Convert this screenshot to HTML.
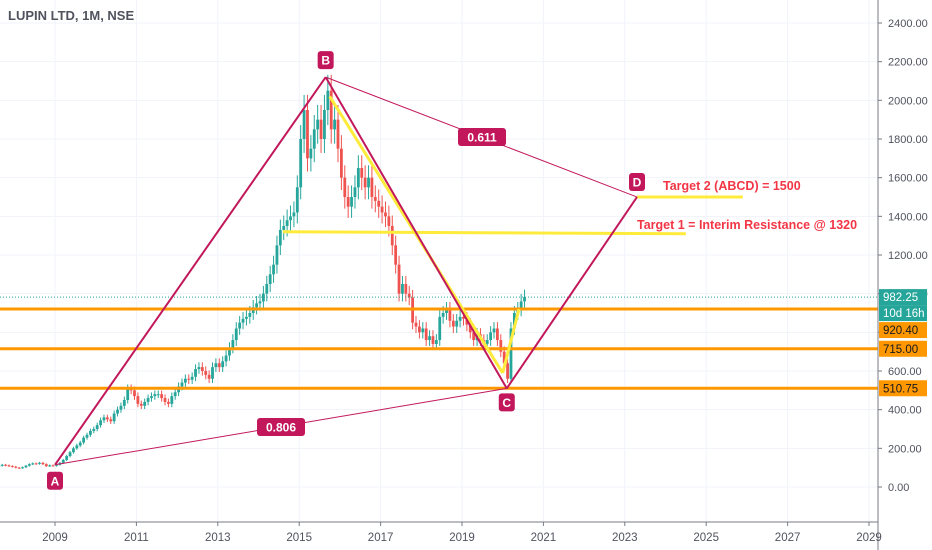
<!DOCTYPE html>
<html><head><meta charset="utf-8"><style>
body{margin:0;background:#fff;}
svg{display:block;font-family:"Liberation Sans",sans-serif;}
</style></head><body>
<svg id="c" width="932" height="550" viewBox="0 0 932 550" xmlns="http://www.w3.org/2000/svg">
<rect width="932" height="550" fill="#fff"/>
<g id="grid"></g>
<g id="candles"></g>
<g id="draw"></g>
<g id="axes"></g>
<text x="8" y="20" font-size="13" font-weight="bold" fill="#50535e">LUPIN LTD, 1M, NSE</text>
</svg>
<script>
const priceTicks=[0,200,400,600,800,1000,1200,1400,1600,1800,2000,2200,2400];
const yearTicks=[2009,2011,2013,2015,2017,2019,2021,2023,2025,2027,2029];
const startYear=2007.62;
const closes=[110,115,112,108,
105,100,98,102,110,118,122,120,125,118,108,112,
110,115,125,140,160,180,200,215,230,255,270,290,
300,320,345,360,350,340,380,400,420,450,510,500,
470,430,420,440,460,470,480,480,460,440,430,470,
490,520,540,560,555,570,610,620,600,580,560,620,
640,620,650,680,720,760,820,850,870,880,900,930,
950,960,1000,1050,1100,1150,1250,1330,1350,1380,1400,1420,
1550,1800,1950,1700,1750,1850,1900,1800,1950,2050,1850,1900,
1750,1600,1500,1450,1500,1550,1650,1600,1550,1600,1500,1480,
1450,1420,1400,1350,1250,1150,1000,1050,1000,980,850,830,
800,820,760,780,740,760,880,900,920,860,830,860,
880,870,840,800,760,790,760,740,760,800,820,760,
700,640,560,820,900,920,960,982];
const levels=[920.40,715.00,510.75];
const lastPrice=982.25;
const pA=[2009.0,115],pB=[2015.65,2120],pC=[2020.1,510],pD=[2023.3,1500];

const NS="http://www.w3.org/2000/svg";
const X=y=>55+(y-2009)*40.7;
const Y=p=>487-p*0.19333;
function el(t,a,parent){const e=document.createElementNS(NS,t);for(const k in a)e.setAttribute(k,a[k]);parent.appendChild(e);return e;}
const grid=document.getElementById('grid'),cg=document.getElementById('candles'),dg=document.getElementById('draw'),ax=document.getElementById('axes');
priceTicks.forEach(p=>{const l=el('line',{x1:0,x2:878,y1:Y(p),y2:Y(p),stroke:'#f0f3fa'},grid);
});
yearTicks.forEach(y=>{const l=el('line',{x1:X(y),x2:X(y),y1:0,y2:522,stroke:'#f0f3fa'},grid);
});
closes.forEach((c,i)=>{const o=i?closes[i-1]:c*0.97;const t=startYear+i/12;const x=X(t);
const up=c>=o;const col=up?'#26a69a':'#ef5350';const hi=Math.max(o,c)*1.04,lo=Math.min(o,c)*0.96;
const w=el('line',{x1:x,x2:x,y1:Y(hi),y2:Y(lo),stroke:col,'stroke-width':1},cg);

const b=el('rect',{x:x-1.4,y:Y(Math.max(o,c)),width:2.8,height:Math.max(1,Math.abs(Y(o)-Y(c))),fill:col},cg);
});
const lp=el('line',{x1:0,x2:878,y1:Y(lastPrice),y2:Y(lastPrice),stroke:'#26a69a','stroke-dasharray':'1,2'},dg);

levels.forEach(v=>{const l=el('line',{x1:0,x2:878,y1:Y(v),y2:Y(v),stroke:'#ff9800','stroke-width':3},dg);
});
function line(a,b,col,w,name){const l=el('line',{x1:X(a[0]),y1:Y(a[1]),x2:X(b[0]),y2:Y(b[1]),stroke:col,'stroke-width':w},dg);
}
line([2014.6,1320],[2024.5,1310],'#ffeb3b',3,'resistance-line');
line([2015.75,2020],[2020.0,590],'#ffeb3b',3,'trend-line');
line([2020.0,590],[2020.4,920],'#ffeb3b',3,'trend-line-up');
line([2023.3,1500],[2025.9,1500],'#ffeb3b',3,'target2-line');
line(pA,pC,'#c2185b',1,'ac-line');line(pB,pD,'#c2185b',1,'bd-line');
line(pA,pB,'#c2185b',2,'ab-leg');line(pB,pC,'#c2185b',2,'bc-leg');line(pC,pD,'#c2185b',2,'cd-leg');
function tag(x,y,t,name){const g=el('g',{},dg);
const w=t.length*8+8;el('rect',{x:x-w/2,y:y-9,width:w,height:18,rx:3,fill:'#c2185b'},g);
const tx=el('text',{x:x,y:y+4.5,'text-anchor':'middle','font-size':12,'font-weight':'bold',fill:'#fff'},g);tx.textContent=t;}
tag(X(pA[0]),Y(pA[1])+16,'A','point-a-label');tag(X(pB[0]),Y(pB[1])-17,'B','point-b-label');
tag(X(pC[0]),Y(pC[1])+14,'C','point-c-label');tag(X(pD[0]),Y(pD[1])-15,'D','point-d-label');
tag(281,427,'0.806','ratio-ac-label');tag(482,137,'0.611','ratio-bd-label');
function txt(x,y,t,name){const e=el('text',{x:x,y:y,'font-size':12.5,'font-weight':'bold',fill:'#f23645'},dg);e.textContent=t;
}
txt(663,190,'Target 2 (ABCD) = 1500','target2-text');txt(637,229,'Target 1 = Interim Resistance @ 1320','target1-text');
el('line',{x1:878,x2:878,y1:0,y2:550,stroke:'#787b86'},ax);
el('line',{x1:0,x2:878,y1:522,y2:522,stroke:'#787b86'},ax);
priceTicks.forEach(p=>{el('line',{x1:878,x2:882,y1:Y(p),y2:Y(p),stroke:'#787b86'},ax);
const t=el('text',{x:888,y:Y(p)+4,'font-size':11,fill:'#50535e'},ax);t.textContent=p.toFixed(2);
});
yearTicks.forEach(y=>{el('line',{x1:X(y),x2:X(y),y1:522,y2:526,stroke:'#787b86'},ax);
const t=el('text',{x:X(y),y:541,'font-size':11.5,fill:'#50535e','text-anchor':'middle'},ax);t.textContent=y;
});
function badge(y,t,bg,fg,name){const g=el('g',{},ax);
el('rect',{x:879,y:y-8,width:48,height:16,fill:bg},g);const e=el('text',{x:883,y:y+4,'font-size':11.5,fill:fg},g);e.textContent=t;}
badge(Y(lastPrice),lastPrice.toFixed(2),'#26a69a','#fff','last-price-badge');
badge(Y(lastPrice)+16,'10d 16h','#26a69a','#fff','countdown-badge');
badge(Y(levels[0])+21,levels[0].toFixed(2),'#ff9800','#131722','level-920-badge');
badge(Y(levels[1]),levels[1].toFixed(2),'#ff9800','#131722','level-715-badge');
badge(Y(levels[2]),levels[2].toFixed(2),'#ff9800','#131722','level-510-badge');
</script>
</body></html>
